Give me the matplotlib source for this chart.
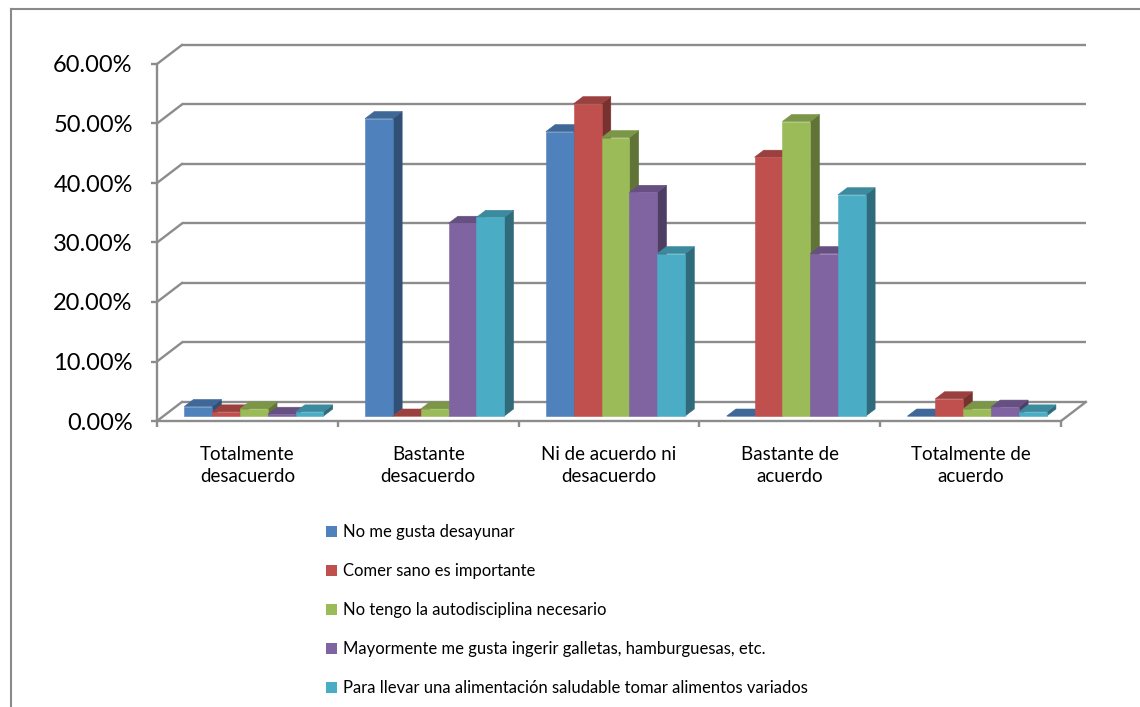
import matplotlib.pyplot as plt
from matplotlib.colors import to_rgb
from matplotlib.lines import Line2D
from matplotlib.patches import Patch, Polygon
from matplotlib.ticker import FuncFormatter

plt.rcParams["font.family"] = ["Lato", "DejaVu Sans"]

categories = [
    "Totalmente\ndesacuerdo",
    "Bastante\ndesacuerdo",
    "Ni de acuerdo ni\ndesacuerdo",
    "Bastante de\nacuerdo",
    "Totalmente de\nacuerdo",
]
series_names = [
    "No me gusta desayunar",
    "Comer sano es importante",
    "No tengo la autodisciplina necesario",
    "Mayormente me gusta ingerir galletas, hamburguesas, etc.",
    "Para llevar una alimentación saludable tomar alimentos variados",
]
# percentages per answer category
no_desayunar = [1.6, 50.0, 47.8, 0.0, 0.0]
comer_sano = [0.7, 0.0, 52.5, 43.5, 2.9]
autodisciplina = [1.2, 1.2, 46.8, 49.5, 1.2]
galletas = [0.3, 32.4, 37.6, 27.3, 1.5]
variados = [0.7, 33.4, 27.3, 37.2, 0.7]
series = [no_desayunar, comer_sano, autodisciplina, galletas, variados]
colors = ["#4F81BD", "#C0504D", "#9BBB59", "#8064A2", "#4BACC6"]
y_ticks = [0, 10, 20, 30, 40, 50, 60]

# oblique projection of the depth axis (data units per full depth)
DX, DY = 0.138, 3.2
D0, D1 = 0.26, 0.63
BAR_W = 0.154
GRID = "#8c8c8c"


def shade(c, f):
    return tuple(v * f for v in to_rgb(c))


def draw_bar(ax, x0, v, color, z):
    x = x0 + D0 * DX
    y = D0 * DY
    bx = (D1 - D0) * DX
    by = (D1 - D0) * DY
    front = [(x, y), (x + BAR_W, y), (x + BAR_W, y + v), (x, y + v)]
    side = [(x + BAR_W, y), (x + BAR_W + bx, y + by),
            (x + BAR_W + bx, y + v + by), (x + BAR_W, y + v)]
    top = [(x, y + v), (x + BAR_W, y + v),
           (x + BAR_W + bx, y + v + by), (x + bx, y + v + by)]
    for pts, col in ((side, shade(color, 0.62)), (top, shade(color, 0.8)),
                     (front, color)):
        ax.add_patch(Polygon(pts, closed=True, facecolor=col, edgecolor=col,
                             linewidth=0.4, zorder=z))


fig = plt.figure(figsize=(11.4, 7.07), dpi=100)
W, H = 1140, 707
left_px, right_px, top_px, bottom_px = 157, 1100, 30, 430
ax = fig.add_axes([left_px / W, 1 - bottom_px / H,
                   (right_px - left_px) / W, (bottom_px - top_px) / H])
px_x = 180.8
px_y = 5.95
zero_px = 421
ax.set_xlim(0, (right_px - left_px) / px_x)
ax.set_ylim(-(bottom_px - zero_px) / px_y, (zero_px - top_px) / px_y)

n = len(categories)

# back wall and side wall gridlines
for t in y_ticks:
    ax.plot([DX, n + DX], [t + DY, t + DY], color=GRID, lw=1.7, zorder=1,
            solid_capstyle="butt")
    ax.plot([0, DX], [t, t + DY], color=GRID, lw=1.7, zorder=1)
# floor
ax.plot([n, n + DX], [0, DY], color=GRID, lw=1.7, zorder=1)

# bars
z = 2
for i in range(n):
    start = i + (1 - BAR_W * len(series)) / 2
    for j, vals in enumerate(series):
        draw_bar(ax, start + j * BAR_W, vals[i], colors[j], z)
        z += 1

# axes
for s in ("top", "right"):
    ax.spines[s].set_visible(False)
ax.spines["left"].set_bounds(0, 60)
ax.spines["bottom"].set_position(("data", 0))
ax.spines["bottom"].set_bounds(0, n)
for s in ("left", "bottom"):
    ax.spines[s].set_color(GRID)
    ax.spines[s].set_linewidth(1.7)

ax.set_yticks(y_ticks)
ax.yaxis.set_major_formatter(FuncFormatter(lambda v, p: f"{v:.2f}%"))
ax.tick_params(axis="y", direction="out", length=4.5, width=1.7,
               color=GRID, pad=13, labelsize=17)

ax.set_xticks([i + 0.5 for i in range(n)])
ax.set_xticklabels(categories, fontsize=13.5, linespacing=1.35)
ax.set_xticks(range(n + 1), minor=True)
ax.tick_params(axis="x", which="major", length=0, pad=18)
ax.tick_params(axis="x", which="minor", direction="out", length=4.5,
               width=1.7, color=GRID)

handles = [Patch(facecolor=c, edgecolor="none") for c in colors]
fig.legend(handles, series_names, loc="upper left",
           bbox_to_anchor=(326 / W, 1 - 524 / H), frameon=False,
           fontsize=12, handlelength=0.65, handleheight=0.65,
           handletextpad=0.35, labelspacing=1.38, borderpad=0,
           borderaxespad=0)

# chart border
fig.add_artist(Line2D([11 / W, 1], [1 - 9 / H, 1 - 9 / H],
                      color="#8a8a8a", lw=1.5))
fig.add_artist(Line2D([11 / W, 11 / W], [0, 1 - 9 / H],
                      color="#8a8a8a", lw=1.5))

fig.savefig("out.png", dpi=100)
